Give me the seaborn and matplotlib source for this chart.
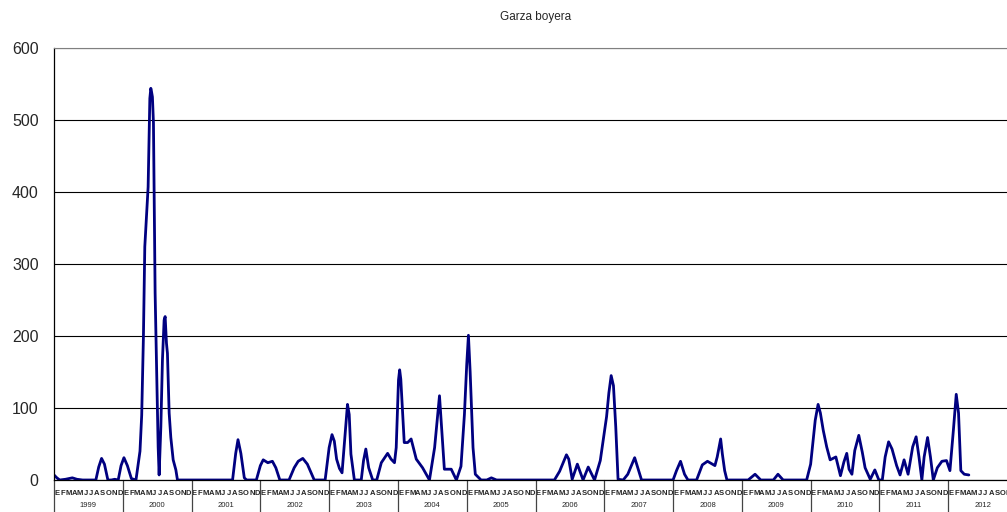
import matplotlib
matplotlib.use("Agg")
import matplotlib.pyplot as plt
import matplotlib.transforms as mtransforms
import numpy as np
import seaborn as sns

# monthly counts, x = months since Jan 1999 (irregular sampling)
months = [0, 0.5, 1, 2, 3.2, 4, 5, 6, 7.3, 7.8, 8.3, 8.8, 9.4, 10, 10.6, 11.2, 11.7, 12.2, 12.8, 13.5,
          14.3, 14.8, 15.0, 15.3, 15.6, 15.84, 16.19, 16.42, 16.59, 16.72, 16.89, 17.0, 17.17, 17.35,
          17.47, 17.64, 17.87, 18.17, 18.34, 18.64, 18.92, 19.21, 19.39, 19.62, 19.79, 20.09, 20.38,
          20.79, 21.26, 21.54, 22.5, 24, 26, 28, 30, 31.15, 31.7, 32.1, 32.6, 33.2, 33.6, 34.5, 35.3,
          36.0, 36.5, 37.3, 38.1, 38.7, 39.4, 40.2, 41, 41.9, 42.6, 43.4, 44.2, 45.4, 46.3, 47.3, 48,
          48.5, 48.9, 49.3, 49.8, 50.25, 50.65, 51.2, 51.5, 51.8, 52.4, 53.0, 53.6, 54, 54.4, 54.9,
          55.6, 56.3, 57.1, 58.2, 58.8, 59.4, 59.7, 60.1, 60.3, 60.5, 60.7, 61.1, 61.7, 62.3, 63.2,
          64.3, 65.5, 66.4, 66.95, 67.25, 67.5, 68.1, 69.3, 70.2, 71, 71.6, 72.0, 72.3, 72.6, 73.1,
          73.5, 74.5, 75.5, 76.3, 77.2, 78, 80, 82, 84, 86, 87.3, 88.2, 89.4, 89.8, 90.4, 91.3, 92.3,
          93.2, 94.3, 95.3, 96.4, 96.8, 97.2, 97.6, 98, 98.4, 99.3, 100.1, 101.3, 102.5, 104, 106,
          108, 108.6, 109.3, 110, 110.6, 112.1, 113.1, 114, 115.3, 115.7, 116.3, 116.6, 117, 117.4,
          119, 121.1, 122.3, 123.3, 125.5, 126.3, 127.2, 129, 131.3, 132, 132.8, 133.3, 133.7, 134.2,
          134.8, 135.4, 136.4, 137.2, 137.8, 138.3, 138.7, 139.2, 139.7, 140.4, 141, 141.5, 142.4,
          143.2, 143.9, 144.5, 145, 145.6, 146.2, 147, 147.6, 148.3, 149, 149.8, 150.4, 150.9, 151.4,
          151.8, 152.4, 152.9, 153.4, 154.1, 154.9, 155.7, 156.3, 156.9, 157.4, 157.8, 158.2, 158.8,
          159.6]
counts = [7, 3, 0, 1, 3, 1, 0, 0, 0, 18, 30, 22, 0, 0, 1, 0, 20, 31, 20, 2,
          0, 28, 40, 90, 199, 324, 375, 407, 477, 530, 544, 540, 532, 496,
          398, 260, 167, 46, 7, 74, 167, 222, 227, 190, 176, 93, 59,
          28, 14, 0, 0, 0, 0, 0, 0, 0, 37, 56, 37, 3, 0, 0, 0,
          20, 28, 24, 26, 17, 0, 0, 0, 17, 26, 30, 22, 0, 0, 0, 45,
          63, 54, 29, 16, 10, 50, 105, 91, 36, 0, 0, 0, 27, 43, 17,
          0, 0, 24, 37, 29, 24, 45, 139, 153, 140, 110, 52, 52, 57, 29,
          17, 0, 45, 91, 117, 87, 15, 15, 0, 19, 91, 160, 201, 150, 45,
          8, 0, 0, 3, 0, 0, 0, 0, 0, 0, 0, 12, 35, 29, 1, 22, 0,
          18, 0, 27, 88, 121, 145, 131, 74, 1, 0, 8, 31, 0, 0, 0,
          0, 13, 26, 8, 0, 0, 21, 26, 20, 32, 57, 36, 13, 0,
          0, 0, 8, 0, 0, 8, 0, 0, 0, 22, 83, 105, 93, 69,
          46, 28, 32, 6, 25, 37, 15, 8, 41, 62, 39, 17, 1,
          14, 0, 0, 32, 53, 43, 20, 7, 28, 8, 46, 60, 32, 0,
          32, 59, 32, 0, 17, 26, 27, 13, 69, 119, 93, 13, 8,
          7]

years = list(range(1999, 2013))
month_letters = ["E", "F", "M", "A", "M", "J", "J", "A", "S", "O", "N", "D"]

sns.set_style("white")
plt.rcParams["font.family"] = ["Liberation Sans", "DejaVu Sans"]

fig = plt.figure(figsize=(10.07, 5.12), dpi=100)
ax = fig.add_axes([54 / 1007, 32 / 512, 963 / 1007, 432 / 512])

sns.lineplot(x=months, y=counts, ax=ax, color="#000080", linewidth=2.0,
             estimator=None, sort=False)

n_months = 12 * len(years)
ax.set_xlim(0, n_months)
ax.set_ylim(0, 600)

ax.set_yticks(range(0, 601, 100))
ax.tick_params(axis="y", length=4, width=0.8, color="black", pad=7, labelsize=11.5)
ax.yaxis.grid(True, color="black", linewidth=0.8)
ax.set_axisbelow(True)

# month ticks + letters
ax.set_xticks(np.arange(n_months + 1), minor=True)
ax.set_xticks(np.arange(n_months) + 0.5)
ax.set_xticklabels(month_letters * len(years), fontsize=5.5, fontweight="bold")
ax.tick_params(axis="x", which="major", length=0, pad=7.5)
ax.tick_params(axis="x", which="minor", length=9, width=0.8, color="black")

# year separators and labels
trans = mtransforms.blended_transform_factory(ax.transData, ax.transAxes)
for i, yr in enumerate(years):
    ax.plot([12 * i, 12 * i], [0, -0.075], transform=trans, color="#444444",
            linewidth=0.9, clip_on=False)
    ax.text(12 * i + 6, -0.058, str(yr), transform=trans, ha="center", va="center",
            fontsize=5.5)

for side in ["left", "bottom"]:
    ax.spines[side].set_color("black")
    ax.spines[side].set_linewidth(0.9)
ax.spines["top"].set_color("#808080")
ax.spines["right"].set_visible(False)

ax.set_title("Garza boyera", fontsize=8.5, pad=20)
ax.set_xlabel("")
ax.set_ylabel("")

fig.savefig("out.png", dpi=100)
